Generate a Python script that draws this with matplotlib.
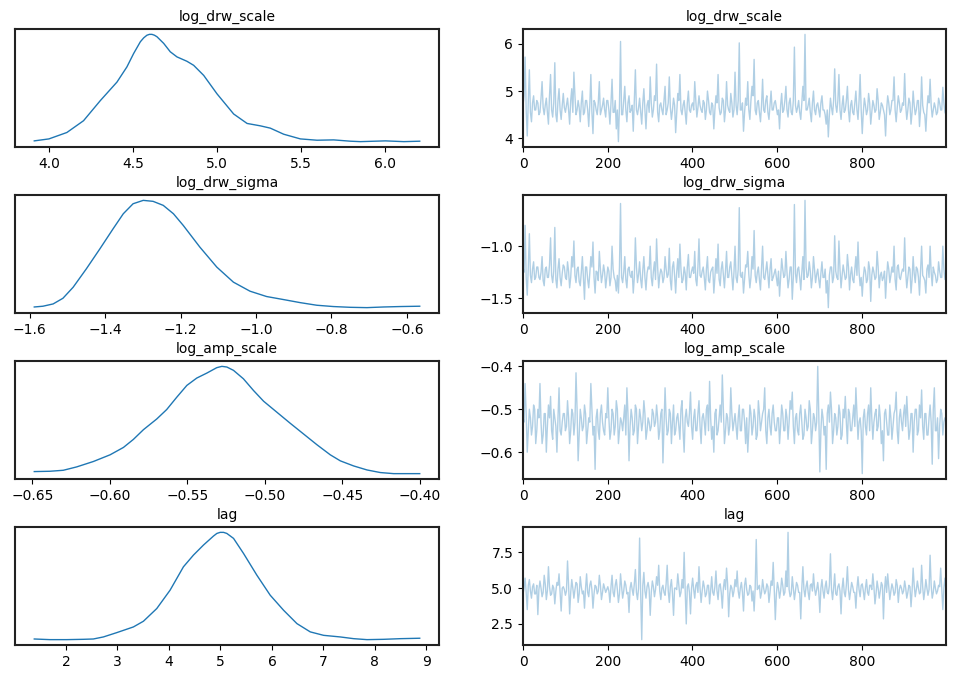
import matplotlib
matplotlib.use("Agg")
import matplotlib.pyplot as plt
import numpy as np

# posterior summaries
names = ["log_drw_scale", "log_drw_sigma", "log_amp_scale", "lag"]

# KDE curves (grid, relative density)
kde_scale_x = [3.913, 4.0, 4.107, 4.206, 4.306, 4.405, 4.464, 4.504, 4.544, 4.564,
               4.583, 4.598, 4.613, 4.628, 4.643, 4.683, 4.722, 4.762, 4.821, 4.861,
               4.921, 5.0, 5.099, 5.179, 5.258, 5.317, 5.397, 5.496, 5.595, 5.694,
               5.794, 5.853, 6.002, 6.111, 6.206]
kde_scale_y = [0.022, 0.040, 0.099, 0.207, 0.392, 0.562, 0.701, 0.824, 0.932, 0.968,
               0.992, 1.0, 1.0, 0.992, 0.978, 0.917, 0.840, 0.793, 0.753, 0.716,
               0.623, 0.454, 0.269, 0.182, 0.160, 0.139, 0.083, 0.040, 0.028, 0.031,
               0.019, 0.015, 0.022, 0.015, 0.019]

kde_sigma_x = [-1.588, -1.565, -1.538, -1.512, -1.485, -1.450, -1.414, -1.379, -1.352,
               -1.326, -1.299, -1.273, -1.246, -1.219, -1.193, -1.149, -1.104, -1.060,
               -1.016, -0.972, -0.927, -0.883, -0.839, -0.795, -0.750, -0.706, -0.662,
               -0.618, -0.566]
kde_sigma_y = [0.021, 0.028, 0.049, 0.101, 0.202, 0.371, 0.555, 0.739, 0.877, 0.969,
               1.0, 0.991, 0.954, 0.877, 0.770, 0.571, 0.387, 0.249, 0.166, 0.117,
               0.089, 0.061, 0.037, 0.025, 0.018, 0.015, 0.021, 0.025, 0.028]

kde_amp_x = [-0.6487, -0.6386, -0.6300, -0.6214, -0.6106, -0.5998, -0.5912, -0.5848,
             -0.5783, -0.5697, -0.5633, -0.5568, -0.5503, -0.5439, -0.5374, -0.5310,
             -0.5277, -0.5245, -0.5202, -0.5138, -0.5073, -0.5008, -0.4922, -0.4836,
             -0.4750, -0.4664, -0.4578, -0.4513, -0.4427, -0.4341, -0.4255, -0.4169,
             -0.4083, -0.4001]
kde_amp_y = [0.028, 0.031, 0.040, 0.071, 0.121, 0.183, 0.251, 0.325, 0.415, 0.514,
             0.601, 0.715, 0.824, 0.892, 0.938, 0.988, 1.0, 0.994, 0.963, 0.885,
             0.777, 0.678, 0.576, 0.474, 0.375, 0.276, 0.183, 0.127, 0.080, 0.043,
             0.019, 0.009, 0.009, 0.009]

kde_lag_x = [1.384, 1.689, 2.013, 2.337, 2.531, 2.726, 2.985, 3.309, 3.504, 3.763,
             4.022, 4.281, 4.476, 4.670, 4.865, 4.930, 4.994, 5.060, 5.124, 5.254,
             5.448, 5.707, 5.966, 6.226, 6.485, 6.744, 7.003, 7.327, 7.587, 7.846,
             8.170, 8.494, 8.870]
kde_lag_y = [0.009, 0.003, 0.003, 0.006, 0.009, 0.028, 0.068, 0.121, 0.174, 0.292,
             0.463, 0.680, 0.789, 0.882, 0.966, 0.990, 1.0, 1.0, 0.990, 0.944,
             0.804, 0.602, 0.416, 0.276, 0.152, 0.075, 0.043, 0.028, 0.012, 0.003,
             0.006, 0.012, 0.016]

# traces: 400 of the 1000 draws, read as a main list (draws 0, 5, 10, ...)
# and an in-between list (draws 2.5, 7.5, ...)
n_draws = 1000
trace_scale = [
    4.7, 5.72, 4.05, 5.45, 4.35, 4.9, 4.6, 4.75, 4.55, 5.2, 4.5, 4.85, 4.3, 5.35, 4.45, 5.6, 4.35, 5.05, 4.4, 4.95,
    4.55, 4.85, 4.3, 5.05, 5.4, 4.5, 4.8, 4.35, 5.0, 4.55, 4.8, 4.25, 5.35, 4.1, 4.75, 4.5, 5.2, 4.6, 4.85, 4.45,
    4.8, 4.3, 5.25, 4.55, 4.2, 3.93, 6.05, 4.5, 5.1, 4.35, 4.9, 4.6, 4.15, 5.45, 4.5, 4.85, 4.3, 5.05, 4.2, 4.8,
    5.3, 4.45, 4.9, 5.57, 4.35, 4.75, 4.5, 5.1, 4.6, 5.3, 4.4, 4.85, 4.12, 4.95, 5.35, 4.5, 4.8, 4.3, 5.0, 4.55,
    4.75, 5.2, 4.45, 4.9, 4.6, 4.8, 4.4, 5.0, 4.55, 4.75, 4.2, 4.9, 5.35, 4.5, 4.85, 4.35, 5.2, 4.6, 4.95, 4.45,
    5.4, 4.5, 6.02, 4.6, 4.15, 4.85, 5.2, 4.4, 5.1, 5.67, 4.5, 4.8, 4.35, 5.25, 4.55, 4.9, 4.4, 5.0, 4.6, 4.8,
    4.5, 4.2, 4.95, 4.6, 5.1, 4.45, 4.85, 4.5, 5.93, 4.55, 4.8, 4.4, 5.1, 6.2, 4.6, 4.85, 4.35, 5.0, 4.5, 4.75,
    4.45, 4.9, 4.6, 4.3, 4.03, 4.85, 4.5, 5.47, 4.55, 5.35, 4.4, 4.9, 4.6, 5.1, 4.35, 4.8, 4.5, 5.0, 4.4, 5.35,
    4.1, 4.85, 4.5, 4.95, 4.3, 4.8, 4.55, 5.05, 4.4, 4.75, 4.6, 4.05, 4.9, 4.5, 4.8, 5.3, 4.35, 4.9, 4.55, 4.75,
    5.37, 4.4, 4.85, 4.3, 5.0, 4.5, 4.8, 4.25, 5.3, 4.55, 4.15, 4.9, 5.25, 4.45, 4.75, 4.5, 4.85, 4.6, 5.08, 4.55,
]
trace_scale_mid = [
    4.9, 4.6, 4.8, 4.55, 4.75, 4.6, 4.8, 4.5, 4.85, 4.65, 4.7, 4.55, 4.9, 4.6, 4.75, 4.5, 4.8, 4.6, 4.7, 4.65,
    4.7, 4.6, 4.8, 4.55, 4.9, 4.6, 4.65, 4.75, 4.5, 4.8, 4.6, 4.7, 4.55, 4.8, 4.6, 4.75, 4.5, 4.7, 4.6, 4.8,
    4.6, 4.75, 4.55, 4.8, 4.6, 4.7, 4.5, 4.8, 4.6, 4.75, 4.55, 4.7, 4.8, 4.6, 4.65, 4.55, 4.75, 4.6, 4.7, 4.55,
    4.75, 4.6, 4.8, 4.55, 4.7, 4.6, 4.8, 4.5, 4.75, 4.65, 4.6, 4.7, 4.55, 4.8, 4.6, 4.7, 4.55, 4.75, 4.6, 4.7,
    4.6, 4.8, 4.65, 4.7, 4.55, 4.75, 4.6, 4.8, 4.5, 4.7, 4.6, 4.75, 4.65, 4.55, 4.8, 4.6, 4.7, 4.55, 4.75, 4.6,
    4.7, 4.8, 4.6, 4.75, 4.55, 4.7, 4.6, 4.8, 4.9, 4.6, 4.75, 4.55, 4.7, 4.6, 4.8, 4.55, 4.7, 4.6, 4.75, 4.65,
    4.6, 4.7, 4.55, 4.8, 4.6, 4.75, 4.55, 4.8, 4.7, 4.65, 4.55, 4.75, 4.8, 4.6, 4.7, 4.55, 4.75, 4.6, 4.7, 4.6,
    4.75, 4.6, 4.5, 4.6, 4.5, 4.65, 4.8, 4.7, 4.8, 4.6, 4.7, 4.55, 4.8, 4.6, 4.7, 4.55, 4.75, 4.6, 4.8, 4.6,
    4.55, 4.7, 4.6, 4.75, 4.55, 4.7, 4.6, 4.8, 4.55, 4.7, 4.5, 4.6, 4.75, 4.6, 4.8, 4.6, 4.65, 4.75, 4.6, 4.7,
    4.7, 4.6, 4.75, 4.55, 4.7, 4.6, 4.8, 4.6, 4.7, 4.5, 4.6, 4.75, 4.7, 4.6, 4.65, 4.55, 4.75, 4.6, 4.75, 4.5,
]
trace_sigma = [
    -1.2, -0.8, -1.47, -0.88, -1.35, -1.15, -1.3, -1.2, -1.32, -1.1, -1.38, -1.2, -1.3, -0.92, -1.35, -0.82, -1.4, -1.12, -1.38, -1.18,
    -1.3, -1.15, -1.4, -1.1, -0.95, -1.35, -1.2, -1.38, -1.1, -1.51, -1.2, -1.4, -1.1, -0.96, -1.45, -1.25, -1.05, -1.35, -1.18, -1.4,
    -1.2, -1.38, -1.0, -1.3, -1.43, -1.45, -0.59, -1.35, -1.1, -1.4, -1.2, -1.3, -1.45, -0.92, -1.35, -1.15, -1.4, -1.1, -1.42, -1.2,
    -1.0, -1.38, -1.15, -0.93, -1.4, -1.22, -1.35, -1.1, -1.3, -1.02, -1.42, -1.15, -1.45, -1.12, -0.98, -1.35, -1.2, -1.42, -1.08, -1.3,
    -1.2, -1.05, -1.38, -0.93, -1.3, -1.2, -1.42, -1.1, -1.35, -1.22, -1.45, -1.12, -0.98, -1.38, -1.15, -1.4, -1.05, -1.3, -1.15, -1.42,
    -1.0, -1.35, -0.63, -1.3, -1.45, -1.18, -1.05, -1.4, -1.1, -0.85, -1.35, -1.2, -1.42, -1.0, -1.32, -1.15, -1.4, -1.12, -1.3, -1.22,
    -1.38, -1.48, -1.12, -1.3, -1.05, -1.4, -1.2, -1.51, -0.6, -1.35, -1.2, -1.42, -1.1, -0.56, -1.3, -1.15, -1.4, -1.1, -1.35, -1.22,
    -1.4, -1.15, -1.3, -1.45, -1.59, -1.2, -1.35, -0.9, -1.3, -0.95, -1.4, -1.18, -1.32, -1.08, -1.42, -1.2, -1.35, -1.1, -0.96, -1.38,
    -1.48, -1.2, -1.35, -1.15, -1.53, -1.2, -1.32, -1.05, -1.4, -1.25, -1.3, -1.5, -1.15, -1.35, -1.2, -1.0, -1.42, -1.18, -1.32, -1.22,
    -0.92, -1.4, -1.2, -1.45, -1.1, -1.35, -1.22, -1.47, -1.0, -1.3, -1.45, -1.18, -1.0, -1.38, -1.25, -1.35, -1.15, -1.3, -1.0, -1.32,
]
trace_sigma_mid = [
    -1.25, -1.3, -1.2, -1.28, -1.22, -1.32, -1.2, -1.3, -1.25, -1.33, -1.22, -1.3, -1.18, -1.28, -1.24, -1.32, -1.22, -1.3, -1.26, -1.2,
    -1.32, -1.24, -1.3, -1.2, -1.28, -1.22, -1.34, -1.25, -1.3, -1.2, -1.32, -1.26, -1.2, -1.3, -1.24, -1.33, -1.22, -1.28, -1.25, -1.3,
    -1.24, -1.3, -1.22, -1.33, -1.28, -1.2, -1.3, -1.25, -1.32, -1.22, -1.28, -1.24, -1.3, -1.2, -1.27, -1.32, -1.23, -1.3, -1.26, -1.22,
    -1.3, -1.24, -1.32, -1.2, -1.28, -1.25, -1.3, -1.22, -1.27, -1.33, -1.2, -1.28, -1.25, -1.3, -1.22, -1.32, -1.26, -1.2, -1.3, -1.24,
    -1.26, -1.32, -1.2, -1.28, -1.24, -1.3, -1.22, -1.33, -1.25, -1.2, -1.3, -1.26, -1.32, -1.22, -1.28, -1.24, -1.3, -1.2, -1.28, -1.25,
    -1.3, -1.22, -1.28, -1.25, -1.32, -1.2, -1.27, -1.3, -1.22, -1.28, -1.25, -1.32, -1.2, -1.3, -1.24, -1.28, -1.22, -1.33, -1.26, -1.3,
    -1.24, -1.3, -1.22, -1.28, -1.25, -1.32, -1.2, -1.3, -1.26, -1.22, -1.3, -1.25, -1.32, -1.2, -1.28, -1.24, -1.3, -1.22, -1.27, -1.32,
    -1.26, -1.3, -1.22, -1.33, -1.28, -1.2, -1.3, -1.24, -1.32, -1.22, -1.28, -1.25, -1.3, -1.2, -1.27, -1.32, -1.22, -1.28, -1.25, -1.3,
    -1.3, -1.24, -1.32, -1.22, -1.28, -1.25, -1.3, -1.2, -1.28, -1.33, -1.24, -1.3, -1.22, -1.28, -1.25, -1.32, -1.2, -1.3, -1.26, -1.24,
    -1.25, -1.3, -1.22, -1.32, -1.26, -1.2, -1.3, -1.24, -1.28, -1.33, -1.22, -1.3, -1.25, -1.2, -1.28, -1.32, -1.24, -1.3, -1.22, -1.28,
]
trace_amp = [
    -0.52, -0.44, -0.6, -0.5, -0.56, -0.49, -0.58, -0.5, -0.44, -0.58, -0.51, -0.6, -0.49, -0.47, -0.57, -0.52, -0.6, -0.45, -0.56, -0.51,
    -0.55, -0.48, -0.58, -0.5, -0.56, -0.415, -0.62, -0.5, -0.55, -0.49, -0.58, -0.52, -0.44, -0.56, -0.64, -0.5, -0.57, -0.49, -0.55, -0.51,
    -0.45, -0.57, -0.5, -0.56, -0.48, -0.58, -0.52, -0.55, -0.49, -0.45, -0.62, -0.5, -0.56, -0.49, -0.58, -0.5, -0.55, -0.48, -0.57, -0.52,
    -0.55, -0.5, -0.54, -0.49, -0.57, -0.51, -0.625, -0.45, -0.56, -0.5, -0.58, -0.49, -0.55, -0.51, -0.57, -0.48, -0.6, -0.5, -0.54, -0.46,
    -0.57, -0.5, -0.55, -0.48, -0.58, -0.51, -0.56, -0.49, -0.435, -0.57, -0.6, -0.5, -0.55, -0.49, -0.42, -0.58, -0.51, -0.56, -0.45, -0.55,
    -0.51, -0.57, -0.49, -0.55, -0.5, -0.58, -0.6, -0.49, -0.56, -0.5, -0.57, -0.48, -0.55, -0.51, -0.45, -0.58, -0.5, -0.56, -0.49, -0.55,
    -0.52, -0.58, -0.49, -0.55, -0.5, -0.57, -0.48, -0.46, -0.58, -0.51, -0.56, -0.49, -0.57, -0.5, -0.55, -0.48, -0.58, -0.51, -0.55, -0.4,
    -0.646, -0.5, -0.56, -0.64, -0.49, -0.46, -0.58, -0.51, -0.56, -0.49, -0.57, -0.5, -0.47, -0.58, -0.51, -0.55, -0.49, -0.45, -0.57, -0.52,
    -0.65, -0.5, -0.56, -0.49, -0.45, -0.57, -0.51, -0.55, -0.49, -0.58, -0.62, -0.5, -0.56, -0.49, -0.57, -0.51, -0.46, -0.58, -0.5, -0.55,
    -0.49, -0.47, -0.57, -0.51, -0.6, -0.5, -0.56, -0.49, -0.455, -0.57, -0.51, -0.56, -0.49, -0.628, -0.45, -0.55, -0.615, -0.5, -0.56, -0.52,
]
trace_amp_mid = [
    -0.53, -0.51, -0.55, -0.52, -0.54, -0.5, -0.55, -0.52, -0.53, -0.56, -0.51, -0.54, -0.52, -0.55, -0.5, -0.54, -0.52, -0.55, -0.53, -0.51,
    -0.54, -0.52, -0.55, -0.51, -0.53, -0.5, -0.56, -0.52, -0.54, -0.51, -0.55, -0.53, -0.5, -0.54, -0.52, -0.55, -0.51, -0.53, -0.56, -0.52,
    -0.52, -0.55, -0.51, -0.54, -0.5, -0.55, -0.53, -0.52, -0.56, -0.51, -0.54, -0.52, -0.55, -0.5, -0.54, -0.52, -0.53, -0.51, -0.55, -0.53,
    -0.54, -0.51, -0.53, -0.52, -0.55, -0.5, -0.54, -0.52, -0.55, -0.51, -0.53, -0.56, -0.52, -0.54, -0.5, -0.55, -0.52, -0.53, -0.51, -0.54,
    -0.52, -0.55, -0.51, -0.54, -0.52, -0.53, -0.5, -0.55, -0.52, -0.54, -0.51, -0.56, -0.52, -0.53, -0.5, -0.55, -0.52, -0.54, -0.51, -0.53,
    -0.54, -0.52, -0.55, -0.5, -0.53, -0.52, -0.55, -0.51, -0.54, -0.52, -0.56, -0.51, -0.53, -0.5, -0.55, -0.52, -0.54, -0.51, -0.53, -0.55,
    -0.52, -0.54, -0.51, -0.55, -0.52, -0.53, -0.5, -0.54, -0.52, -0.55, -0.51, -0.53, -0.56, -0.52, -0.54, -0.5, -0.55, -0.52, -0.53, -0.51,
    -0.55, -0.52, -0.54, -0.51, -0.53, -0.5, -0.55, -0.52, -0.54, -0.51, -0.56, -0.52, -0.53, -0.5, -0.55, -0.52, -0.54, -0.51, -0.53, -0.55,
    -0.52, -0.54, -0.51, -0.55, -0.52, -0.53, -0.5, -0.54, -0.52, -0.55, -0.51, -0.53, -0.56, -0.52, -0.54, -0.5, -0.55, -0.52, -0.53, -0.51,
    -0.54, -0.52, -0.55, -0.51, -0.53, -0.5, -0.55, -0.52, -0.54, -0.51, -0.56, -0.52, -0.53, -0.5, -0.55, -0.52, -0.54, -0.51, -0.53, -0.52,
]
trace_lag = [
    4.6, 5.7, 3.5, 5.6, 4.3, 5.3, 4.6, 3.15, 5.5, 4.4, 5.9, 4.2, 6.5, 4.5, 5.2, 3.9, 5.4, 6.0, 3.4, 5.1,
    4.5, 6.9, 3.2, 5.6, 4.3, 5.4, 4.0, 5.8, 4.6, 3.6, 6.0, 4.4, 5.5, 3.6, 5.2, 4.6, 5.9, 4.2, 5.3, 4.7,
    5.1, 4.0, 5.9, 4.4, 5.6, 4.0, 6.0, 4.3, 5.5, 4.6, 3.3, 5.4, 4.5, 6.3, 4.2, 8.5, 1.4, 6.1, 4.3, 5.4,
    3.1, 5.5, 4.4, 5.8, 6.6, 4.2, 5.2, 4.5, 6.6, 4.0, 5.6, 3.1, 5.0, 6.0, 4.4, 5.6, 7.5, 2.5, 5.3, 3.2,
    5.7, 4.3, 5.4, 6.5, 4.0, 5.5, 4.4, 5.2, 3.9, 5.8, 4.5, 6.2, 4.2, 5.3, 3.6, 5.6, 6.4, 3.0, 5.2, 4.4,
    5.6, 6.2, 4.3, 5.4, 3.4, 5.7, 4.5, 5.2, 4.1, 3.4, 8.4, 5.0, 4.3, 5.6, 4.6, 5.3, 4.0, 5.5, 6.8, 2.8,
    5.4, 4.3, 5.7, 4.5, 6.2, 8.9, 4.4, 5.8, 4.2, 5.4, 4.7, 2.85, 6.5, 4.4, 5.5, 4.2, 5.3, 6.0, 4.5, 5.4,
    3.3, 5.6, 4.3, 5.5, 4.6, 7.4, 4.2, 6.0, 4.5, 5.3, 3.2, 5.7, 4.4, 6.5, 4.2, 5.4, 4.7, 3.6, 5.8, 4.4,
    5.3, 4.2, 5.6, 4.5, 5.2, 6.0, 3.9, 5.5, 4.3, 5.4, 2.85, 5.8, 6.0, 4.2, 5.3, 4.5, 5.6, 4.0, 5.2, 4.6,
    5.5, 4.3, 5.2, 3.7, 6.4, 4.4, 5.5, 4.6, 6.6, 4.2, 5.6, 4.5, 7.3, 4.3, 5.5, 4.6, 5.2, 6.4, 3.5, 5.7,
]
trace_lag_mid = [
    5.0, 4.7, 5.2, 4.8, 5.1, 4.6, 5.2, 4.9, 5.0, 4.7, 5.3, 4.8, 5.1, 4.6, 5.0, 4.8, 5.2, 4.7, 5.0, 4.9,
    4.8, 5.2, 4.7, 5.0, 4.9, 5.3, 4.6, 5.1, 4.8, 5.0, 4.7, 5.2, 4.9, 4.6, 5.1, 4.8, 5.2, 4.7, 5.0, 4.9,
    4.8, 5.1, 4.7, 5.2, 4.9, 4.6, 5.1, 4.8, 5.2, 4.7, 5.0, 4.9, 5.3, 4.7, 5.0, 4.6, 5.2, 4.8, 5.1, 4.9,
    4.7, 5.1, 4.9, 5.2, 4.8, 5.0, 4.7, 5.3, 4.8, 5.1, 4.6, 5.0, 4.9, 5.2, 4.7, 5.0, 4.8, 5.1, 4.7, 5.0,
    4.9, 5.2, 4.7, 5.0, 4.8, 5.1, 4.6, 5.2, 4.9, 4.7, 5.1, 4.8, 5.2, 4.7, 5.0, 4.9, 5.3, 4.6, 5.0, 4.8,
    5.1, 4.8, 5.0, 4.7, 5.2, 4.9, 4.6, 5.1, 4.8, 5.0, 4.9, 5.2, 4.7, 5.0, 4.8, 5.1, 4.7, 5.2, 4.9, 4.6,
    5.0, 4.8, 5.2, 4.7, 5.1, 4.9, 4.6, 5.0, 4.8, 5.2, 4.7, 5.0, 4.9, 5.1, 4.7, 5.2, 4.8, 5.0, 4.9, 4.7,
    5.0, 4.8, 5.1, 4.7, 5.2, 4.9, 5.0, 4.6, 5.1, 4.8, 5.0, 4.7, 5.2, 4.9, 4.8, 5.1, 4.7, 5.0, 4.9, 5.2,
    4.8, 5.0, 4.7, 5.2, 4.9, 5.1, 4.6, 5.0, 4.8, 5.2, 4.9, 4.7, 5.1, 4.8, 5.0, 4.7, 5.2, 4.9, 5.0, 4.8,
    5.0, 4.7, 5.1, 4.8, 5.2, 4.9, 5.0, 4.7, 5.1, 4.8, 5.0, 4.9, 5.2, 4.7, 5.0, 4.8, 5.1, 4.9, 5.0, 4.8,
]

kdes = [(kde_scale_x, kde_scale_y), (kde_sigma_x, kde_sigma_y),
        (kde_amp_x, kde_amp_y), (kde_lag_x, kde_lag_y)]
traces = [(trace_scale, trace_scale_mid), (trace_sigma, trace_sigma_mid),
          (trace_amp, trace_amp_mid), (trace_lag, trace_lag_mid)]

fig = plt.figure(figsize=(9.55, 6.79), dpi=100)
W, H = 955.0, 679.0

for i, name in enumerate(names):
    top = 29 + 166 * i
    bottom = (H - (top + 118)) / H
    ax_k = fig.add_axes([15 / W, bottom, 424 / W, 118 / H])
    ax_t = fig.add_axes([523 / W, bottom, 423 / W, 118 / H])

    kx, ky = kdes[i]
    ax_k.plot(kx, ky, color="C0", lw=1)
    ax_k.set_yticks([])

    main, mid = traces[i]
    vals = np.column_stack([main, mid]).ravel()
    draws = np.linspace(0, n_draws - 1, len(vals))
    ax_t.plot(draws, vals, color="C0", alpha=0.35, lw=1)
    ax_t.set_xlim(0, n_draws - 1)

    for ax in (ax_k, ax_t):
        ax.set_title(name, fontsize=10)
        ax.tick_params(labelsize=10)
        for sp in ax.spines.values():
            sp.set_linewidth(1.5)
            sp.set_color("#222222")

fig.savefig("out.png", dpi=100)
